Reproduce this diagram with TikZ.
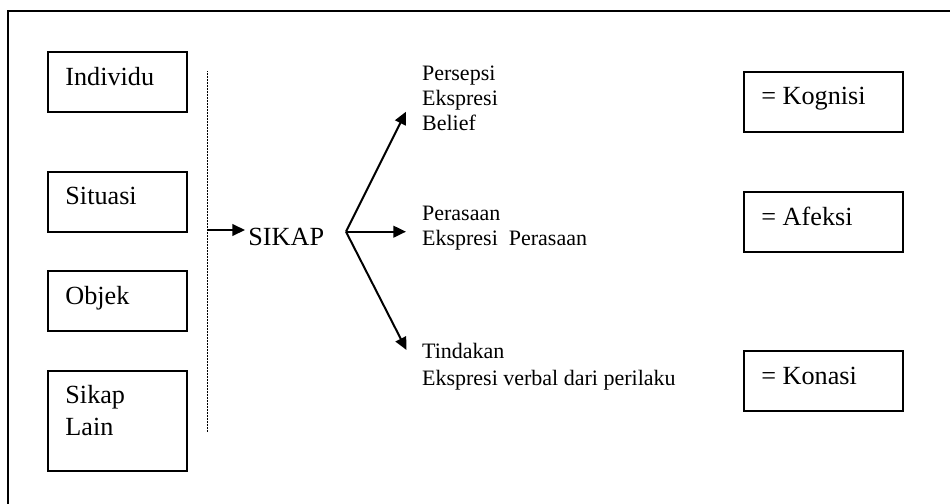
\documentclass[tikz,border=0pt]{standalone}
\usepackage{fontspec}
\setmainfont{Liberation Serif}
\usetikzlibrary{arrows.meta}
\begin{document}
\begin{tikzpicture}[x=0.5pt,y=-0.5pt,
  frameline/.style={line width=1pt},
  boxshape/.style={draw,line width=1pt,minimum width=69.5pt,minimum height=30pt,inner sep=0pt},
  tallbox/.style={boxshape,minimum height=50pt},
  bigtxt/.style={font=\fontsize{13.1}{15}\selectfont,inner sep=0pt,anchor=base west},
  smalltxt/.style={font=\fontsize{11}{12.5}\selectfont,inner sep=0pt,anchor=base west},
  arrowline/.style={line width=1pt,-{Triangle[length=6.3pt,width=5.8pt]}},
  sepline/.style={line width=0.45pt,dash pattern=on 0.5pt off 0.25pt}]
\useasboundingbox (0,0) rectangle (950,504);
% outer frame (right and bottom edges lie outside the picture)
\coordinate (fbl) at (8,504);
\coordinate (ftl) at (8,11);
\coordinate (ftr) at (950,11);
\draw[frameline] (fbl) -- (ftl) -- (ftr);
% left boxes
\node[boxshape] (bind) at (117.5,81.7) {};
\node[bigtxt] (tind) at (65,85) {Individu};
\node[boxshape] (bsit) at (117.5,201.7) {};
\node[bigtxt] (tsit) at (65,204) {Situasi};
\node[boxshape] (bobj) at (117.5,301.3) {};
\node[bigtxt] (tobj) at (65,304.3) {Objek};
\node[tallbox] (bsik) at (117.5,421) {};
\node[bigtxt] (tsik1) at (65,403.3) {Sikap};
\node[bigtxt] (tsik2) at (65,435) {Lain};
% vertical separator
\coordinate (vtop) at (207.3,71);
\coordinate (vbot) at (207.3,432.3);
\draw[sepline] (vtop) -- (vbot);
% SIKAP
\coordinate (vin) at (207.3,230);
\coordinate (skin) at (245,230);
\node[bigtxt] (sikap) at (248,245) {SIKAP};
\draw[arrowline] (vin) -- (skin);
% fork
\coordinate (fork) at (346,231.7);
\coordinate (tip1) at (406,111.7);
\coordinate (tip2) at (406,231.7);
\coordinate (tip3) at (406.5,350);
\draw[arrowline] (fork) -- (tip1);
\draw[arrowline] (fork) -- (tip2);
\draw[arrowline] (fork) -- (tip3);
% middle texts
\node[smalltxt] (p1) at (421.7,80) {Persepsi};
\node[smalltxt] (p2) at (421.7,105) {Ekspresi};
\node[smalltxt] (p3) at (421.7,130.5) {Belief};
\node[smalltxt] (q1) at (421.7,220) {Perasaan};
\node[smalltxt] (q2) at (421.7,245) {Ekspresi\ \ Perasaan};
\node[smalltxt] (r1) at (421.7,358) {Tindakan};
\node[smalltxt] (r2) at (421.7,385) {Ekspresi verbal dari perilaku};
% right boxes
\node[boxshape,minimum width=79.8pt] (bkog) at (823.5,101.7) {};
\node[bigtxt] (tkog) at (761,104) {= Kognisi};
\node[boxshape,minimum width=79.8pt] (bafe) at (823.5,221.7) {};
\node[bigtxt] (tafe) at (761,225) {= Afeksi};
\node[boxshape,minimum width=79.8pt] (bkon) at (823.5,381.3) {};
\node[bigtxt] (tkon) at (761,384) {= Konasi};
\end{tikzpicture}
\end{document}
